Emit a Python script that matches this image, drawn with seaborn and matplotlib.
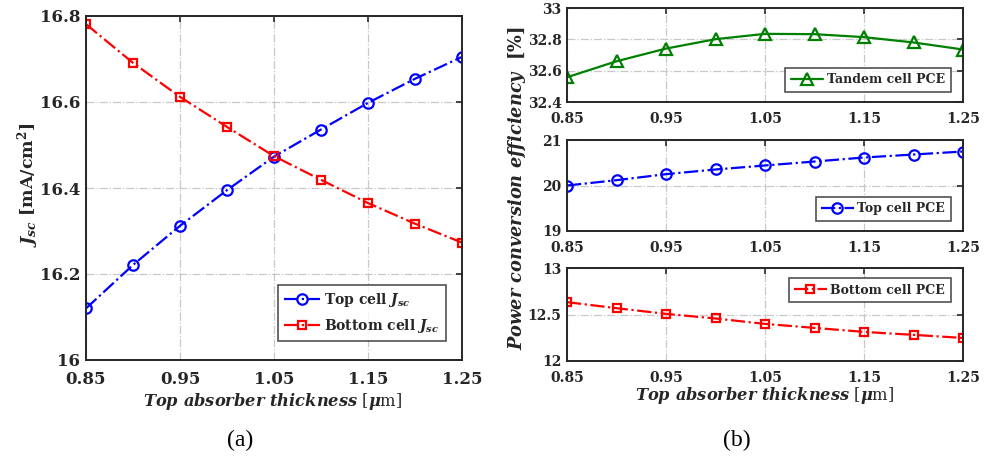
import numpy as np
import pandas as pd
import matplotlib
matplotlib.use("Agg")
import matplotlib.pyplot as plt
import seaborn as sns

# ---- data ----
thickness = [0.85, 0.90, 0.95, 1.00, 1.05, 1.10, 1.15, 1.20, 1.25]
top_jsc = [16.120, 16.221, 16.312, 16.395, 16.473, 16.536, 16.598, 16.654, 16.705]
bottom_jsc = [16.781, 16.691, 16.612, 16.542, 16.474, 16.419, 16.365, 16.317, 16.273]
tandem_pce = [32.558, 32.660, 32.741, 32.801, 32.835, 32.833, 32.814, 32.780, 32.735]
top_pce = [20.00, 20.117, 20.249, 20.352, 20.44, 20.527, 20.615, 20.681, 20.747]
bottom_pce = [12.633, 12.568, 12.507, 12.457, 12.399, 12.356, 12.313, 12.281, 12.248]
xticks = [0.85, 0.95, 1.05, 1.15, 1.25]
xticklabels = ["0.85", "0.95", "1.05", "1.15", "1.25"]

sns.set_style("white")
plt.rcParams['font.family'] = ['DejaVu Serif']
plt.rcParams['mathtext.fontset'] = 'custom'
plt.rcParams['mathtext.it'] = 'DejaVu Serif:italic:bold'
plt.rcParams['mathtext.rm'] = 'DejaVu Serif:bold'
plt.rcParams['mathtext.bf'] = 'DejaVu Serif:bold'

W, H = 985, 459
fig = plt.figure(figsize=(W / 100, H / 100), dpi=100)


def px_axes(x0, y0, x1, y1):
    return fig.add_axes([x0 / W, 1 - y1 / H, (x1 - x0) / W, (y1 - y0) / H])


def style(ax, ylim, yticks, yticklabels, fs, xpad):
    ax.set_xlim(0.85, 1.25)
    ax.set_ylim(*ylim)
    ax.set_xticks(xticks)
    ax.set_xticklabels(xticklabels, fontsize=fs, fontweight='bold', color='#262626')
    ax.set_yticks(yticks)
    ax.set_yticklabels(yticklabels, fontsize=fs, fontweight='bold', color='#262626')
    ax.grid(True, linestyle='-.', color='#c8c8c8', linewidth=0.9)
    ax.tick_params(direction='in', top=True, right=True, length=4, width=1.2,
                   color='#262626')
    ax.tick_params(axis='x', pad=xpad)
    ax.tick_params(axis='y', pad=4)
    for s in ax.spines.values():
        s.set_color('#262626')
        s.set_linewidth(1.4)
    ax.set_xlabel("")
    ax.set_ylabel("")


def line(ax, y, color, marker, ls, label, ms):
    sns.lineplot(x=thickness, y=y, ax=ax, color=color, marker=marker, linestyle=ls,
                 linewidth=1.6, markersize=ms, markerfacecolor='none',
                 markeredgecolor=color, markeredgewidth=1.6, label=label)


def legend(ax, loc, fs, anchor=None):
    kw = {}
    if anchor is not None:
        kw['bbox_to_anchor'] = anchor
    lg = ax.legend(loc=loc, fontsize=fs, frameon=True, fancybox=False,
                   edgecolor='#262626', handlelength=2.6, handletextpad=0.3,
                   borderpad=0.45, labelspacing=0.55, **kw)
    lg.get_frame().set_linewidth(1.2)
    for t in lg.get_texts():
        t.set_fontweight('bold')
    return lg


# ---- panel (a) ----
axa = px_axes(86, 16, 462, 360)
line(axa, top_jsc, 'blue', 'o', '-.', r"Top cell $J_{sc}$", 7.5)
line(axa, bottom_jsc, 'red', 's', '-.', r"Bottom cell $J_{sc}$", 6)
style(axa, (16, 16.8), [16, 16.2, 16.4, 16.6, 16.8], ["16", "16.2", "16.4", "16.6", "16.8"], 12, 8)
legend(axa, 'lower right', 10, anchor=(0.975, 0.035))

# ---- panel (b) ----
axt = px_axes(567, 8, 963, 102)
line(axt, tandem_pce, 'green', '^', '-', "Tandem cell PCE", 8)
style(axt, (32.4, 33), [32.4, 32.6, 32.8, 33], ["32.4", "32.6", "32.8", "33"], 10, 7)
legend(axt, 'lower right', 9, anchor=(0.985, 0.04))

axm = px_axes(567, 140, 963, 231)
line(axm, top_pce, 'blue', 'o', '-.', "Top cell PCE", 7.5)
style(axm, (19, 21), [19, 20, 21], ["19", "20", "21"], 10, 7)
legend(axm, 'lower right', 9, anchor=(0.985, 0.04))

axb = px_axes(567, 268, 963, 361)
line(axb, bottom_pce, 'red', 's', '-.', "Bottom cell PCE", 6)
style(axb, (12, 13), [12, 12.5, 13], ["12", "12.5", "13"], 10, 7)
legend(axb, 'upper right', 9, anchor=(0.985, 0.96))

# ---- labels ----
fig.text(273 / W, 1 - 401 / H, r"$Top\ absorber\ thickness$ [$\mu$m]",
         ha='center', va='center', fontsize=11.7, color='#262626')
fig.text(765 / W, 1 - 396 / H, r"$Top\ absorber\ thickness$ [$\mu$m]",
         ha='center', va='center', fontsize=11.7, color='#262626')
fig.text(28 / W, 1 - 185 / H, r"$J_{sc}$ [mA/cm$^{2}$]", rotation=90,
         ha='center', va='center', fontsize=12.5, fontweight='bold', color='#262626')
fig.text(517 / W, 1 - 188 / H, r"$Power\ conversion\ efficiency$  [%]", rotation=90,
         ha='center', va='center', fontsize=12.8, fontweight='bold', color='#262626')

fig.text(240 / W, 1 - 440 / H, "(a)", ha='center', va='center', fontsize=17,
         family='Liberation Serif', color='black')
fig.text(737 / W, 1 - 440 / H, "(b)", ha='center', va='center', fontsize=17,
         family='Liberation Serif', color='black')

fig.savefig("out.png", dpi=100)
